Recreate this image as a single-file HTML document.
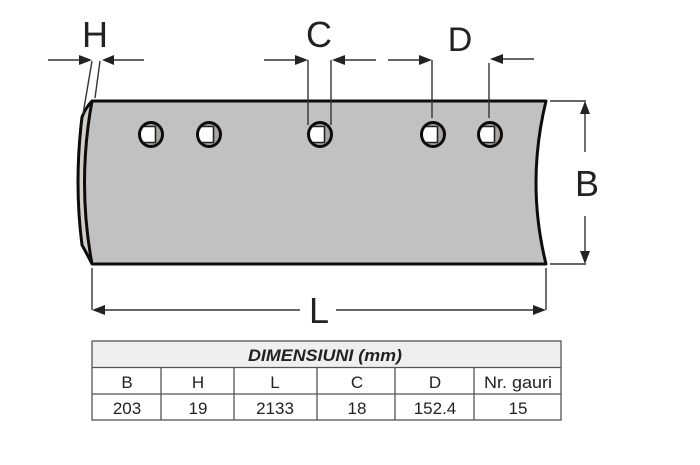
<!DOCTYPE html>
<html>
<head>
<meta charset="utf-8">
<style>
html,body{margin:0;padding:0;background:#fff}
svg{display:block}
.s{font-family:"Liberation Sans",sans-serif;fill:#222;text-anchor:middle}
.t{font-family:"Liberation Sans",sans-serif;font-size:17px;fill:#222;text-anchor:middle}
</style>
</head>
<body>
<svg width="700" height="465" viewBox="0 0 700 465" xmlns="http://www.w3.org/2000/svg">
<defs>
<g id="hole">
<ellipse cx="0" cy="-0.5" rx="11.5" ry="12" fill="#a9a6a0"/>
<path d="M-6,-8 H4 V7 H-6 Q-10.5,7 -10.5,-0.5 Q-10.5,-8 -6,-8 Z" fill="#fff"/>
<path d="M-7,-8.5 H5 M-7,7.5 H5 M4.5,-8.5 V7.5" stroke="#222" stroke-width="1.6" fill="none"/>
<ellipse cx="0" cy="-0.5" rx="11.5" ry="12" fill="none" stroke="#0c0c0c" stroke-width="3"/>
</g>
</defs>

<!-- blade -->
<path d="M92,101 H546 Q526,183 546,264 H92 Q86,252 82,245 Q74,183 82,117 Q86,107 92,101 Z" fill="#c1c1c1"/>
<path d="M92,101 Q86,107 82,117 Q74,183 82,245 Q86,252 92,264 Q77,183 92,101 Z" fill="#d2cec6"/>
<path d="M92,101 H546 Q526,183 546,264 H92 Q86,252 82,245 Q74,183 82,117 Q86,107 92,101 Z" fill="none" stroke="#0c0c0c" stroke-width="3" stroke-linejoin="round"/>
<path d="M92,101 Q77,183 92,264" fill="none" stroke="#0c0c0c" stroke-width="3"/>

<use href="#hole" x="151" y="135"/>
<use href="#hole" x="209" y="135"/>
<use href="#hole" x="320" y="135"/>
<use href="#hole" x="433" y="135"/>
<use href="#hole" x="490" y="135"/>

<!-- dimension lines -->
<g stroke="#333" stroke-width="1.4" fill="none">
<path d="M48,60 H80 M110,60 H144"/>
<path d="M92,61 L83,114 M100,61 L95,98"/>
<path d="M264,60 H296 M344,60 H376"/>
<path d="M308,60 V125 M331,60 V125"/>
<path d="M388,60 H420 M502,59 H534"/>
<path d="M432,60 V118 M489,63 V118"/>
<path d="M550,101 H586 M550,264 H586"/>
<path d="M585,110 V152 M585,216 V256"/>
<path d="M92,268 V310 M546,268 V310"/>
<path d="M104,310 H300 M336,310 H536"/>
</g>
<g fill="#222">
<path d="M92,60 L79,55 V65 Z"/>
<path d="M102,60 L114,55 V65 Z"/>
<path d="M308,60 L295,55 V65 Z"/>
<path d="M332,60 L345,55 V65 Z"/>
<path d="M432,60 L419,55 V65 Z"/>
<path d="M490,59 L503,54 V64 Z"/>
<path d="M585,101 L580,114 H590 Z"/>
<path d="M585,264 L580,251 H590 Z"/>
<path d="M92,310 L105,305 V315 Z"/>
<path d="M546,310 L533,305 V315 Z"/>
</g>
<text class="s" x="95" y="47" font-size="36">H</text>
<text class="s" x="319" y="47" font-size="36">C</text>
<text class="s" x="460" y="51" font-size="34">D</text>
<text class="s" x="587" y="196" font-size="36">B</text>
<text class="s" x="319" y="323" font-size="36">L</text>

<!-- table -->
<rect x="92" y="341" width="469" height="26" fill="#efefef"/>
<g stroke="#555" stroke-width="1.3" fill="none">
<rect x="92" y="341" width="469" height="79"/>
<path d="M92,367.5 H561 M92,394 H561"/>
<path d="M161,367 V420 M234,367 V420 M317,367 V420 M395,367 V420 M474,367 V420"/>
</g>
<text x="325" y="361" font-family="Liberation Sans,sans-serif" font-size="16.5" font-weight="bold" font-style="italic" fill="#222" text-anchor="middle" textLength="154" lengthAdjust="spacingAndGlyphs">DIMENSIUNI (mm)</text>
<text class="t" x="127" y="388">B</text>
<text class="t" x="198" y="388">H</text>
<text class="t" x="275" y="388">L</text>
<text class="t" x="357" y="388">C</text>
<text class="t" x="435" y="388">D</text>
<text class="t" x="518" y="388" textLength="68" lengthAdjust="spacingAndGlyphs">Nr. gauri</text>
<text class="t" x="127" y="414">203</text>
<text class="t" x="198" y="414">19</text>
<text class="t" x="275" y="414">2133</text>
<text class="t" x="357" y="414">18</text>
<text class="t" x="435" y="414">152.4</text>
<text class="t" x="518" y="414">15</text>
</svg>
</body>
</html>
